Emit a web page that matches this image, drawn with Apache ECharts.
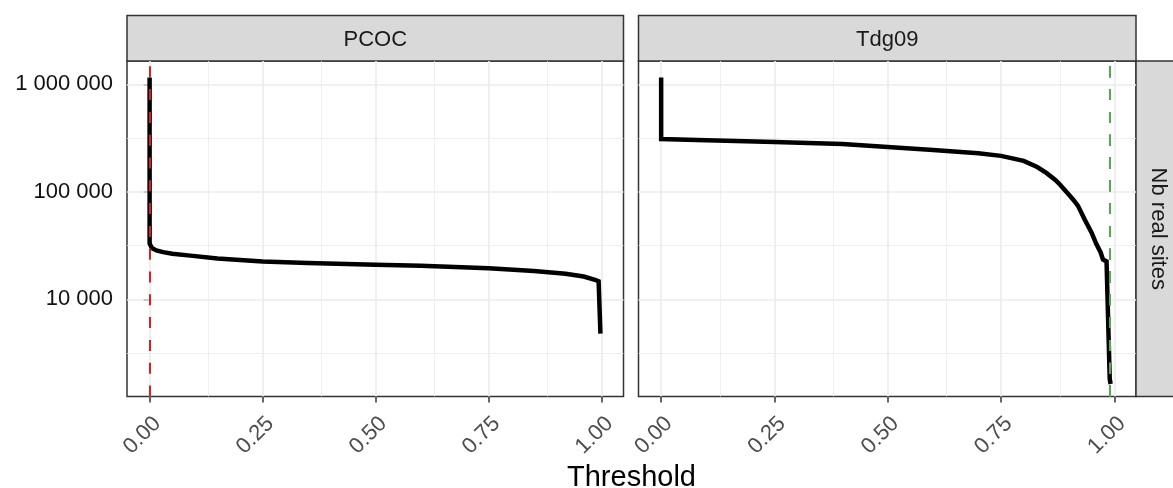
<!DOCTYPE html>
<html>
<head>
<meta charset="utf-8">
<script src="https://cdn.jsdelivr.net/npm/echarts@6/dist/echarts.min.js"></script>
<style>html,body{margin:0;padding:0;background:#fff}#c{width:1173px;height:488px}</style>
</head>
<body>
<div id="c"></div>
<script>
// ---- data ----
const panels = ['PCOC', 'Tdg09'];
const pcocX = [0, 0, 0.005, 0.015, 0.03, 0.05, 0.09, 0.15, 0.25, 0.35, 0.5, 0.6, 0.75, 0.85, 0.92, 0.96, 0.985, 0.993, 0.997, 0.997];
const pcocY = [1160000, 33000, 30000, 28500, 27500, 26500, 25500, 24000, 22500, 21800, 21000, 20500, 19500, 18300, 17300, 16300, 15200, 14700, 14300, 4800];
const tdgX = [0, 0, 0.1, 0.25, 0.4, 0.5, 0.6, 0.7, 0.75, 0.8, 0.83, 0.85, 0.87, 0.88, 0.9, 0.91, 0.92, 0.935, 0.95, 0.96, 0.97, 0.975, 0.983, 0.985, 0.99, 0.992];
const tdgY = [1160000, 310000, 302000, 290000, 278000, 261000, 245000, 229000, 216000, 194000, 170000, 150000, 129000, 117000, 94000, 84000, 74000, 55000, 41700, 33000, 27300, 23500, 22500, 22500, 1820, 1630];
const thresholdsPCOC = [0];
const thresholdsTdg = [0.9855, 0.988, 0.991, 0.9935];
const thresholdColors = ['#E41A1C', '#377EB8', '#4DAF4A', '#984EA3'];
const thresholdDrawOrder = [3, 0, 1, 2];
const xTicks = [0, 0.25, 0.5, 0.75, 1];
const xMinor = [0.125, 0.375, 0.625, 0.875];
const yTicks = [10000, 100000, 1000000];
const yMinor = [Math.pow(10, 3.5), Math.pow(10, 4.5), Math.pow(10, 5.5)];

// ---- chart ----
const FONT = '"Liberation Sans", Arial, sans-serif';
const L = Math.log10;
const XMIN = -0.05, XMAX = 1.048, YMIN = 3.096, YMAX = 6.217;
const fmt = v => String(Math.round(Math.pow(10, v))).replace(/\B(?=(\d{3})+(?!\d))/g, ' ');
const chart = echarts.init(document.getElementById('c'), null, {renderer: 'canvas'});

const grids = [
  {left: 127, top: 61, width: 496.5, height: 335.5},
  {left: 638.5, top: 61, width: 497.5, height: 335.5}
].map(g => Object.assign(g, {show: true, backgroundColor: '#fff', borderColor: '#333', borderWidth: 1.5, containLabel: false, outerBoundsMode: 'none'}));

const xAxes = [0, 1].map(i => ({
  type: 'value', gridIndex: i, min: XMIN, max: XMAX,
  axisLine: {show: false}, splitLine: {show: false},
  axisTick: {show: true, customValues: xTicks, length: 6, lineStyle: {color: '#333', width: 1.5}},
  axisLabel: {customValues: xTicks, rotate: 45, margin: 16, align: 'right', verticalAlign: 'top',
    formatter: v => v.toFixed(2), color: '#4D4D4D', fontSize: 22, fontFamily: FONT}
}));
const yAxes = [0, 1].map(i => ({
  type: 'value', gridIndex: i, min: YMIN, max: YMAX,
  axisLine: {show: false}, splitLine: {show: false},
  axisTick: {show: i === 0, customValues: yTicks.map(L), length: 6, lineStyle: {color: '#333', width: 1.5}},
  axisLabel: {show: i === 0, customValues: yTicks.map(L), margin: 14, formatter: fmt,
    color: '#111', fontSize: 22, fontFamily: FONT}
}));

const gridLines = [];
xTicks.forEach(v => gridLines.push({xAxis: v, lineStyle: {width: 1.6}}));
xMinor.forEach(v => gridLines.push({xAxis: v, lineStyle: {width: 0.8}}));
yTicks.forEach(v => gridLines.push({yAxis: L(v), lineStyle: {width: 1.6}}));
yMinor.forEach(v => gridLines.push({yAxis: L(v), lineStyle: {width: 0.8}}));

const series = [];
const xs = [pcocX, tdgX], ys = [pcocY, tdgY], thr = [thresholdsPCOC, thresholdsTdg];
[0, 1].forEach(i => {
  series.push({
    type: 'line', xAxisIndex: i, yAxisIndex: i, data: [], silent: true,
    markLine: {z: 1, silent: true, symbol: 'none', label: {show: false}, animation: false,
      lineStyle: {color: '#EBEBEB', type: 'solid'}, data: gridLines}
  });
  series.push({
    type: 'line', xAxisIndex: i, yAxisIndex: i, z: 3, showSymbol: false, silent: true,
    lineStyle: {color: '#000', width: 4.5, cap: 'butt', join: 'miter'},
    data: xs[i].map((x, k) => [x, L(ys[i][k])])
  });
  const order = thresholdDrawOrder.filter(k => k < thr[i].length);
  series.push({
    type: 'line', xAxisIndex: i, yAxisIndex: i, data: [], silent: true,
    markLine: {z: 10, silent: true, symbol: 'none', label: {show: false}, animation: false,
      data: order.map(k => ({xAxis: thr[i][k], lineStyle: {color: thresholdColors[k], width: 2, opacity: 1, type: [11, 11.8]}}))}
  });
});

const strips = [
  {type: 'rect', shape: {x: 127, y: 15.5, width: 496.5, height: 45.5}, style: {fill: '#D9D9D9', stroke: '#333', lineWidth: 1.5}},
  {type: 'rect', shape: {x: 638.5, y: 15.5, width: 497.5, height: 45.5}, style: {fill: '#D9D9D9', stroke: '#333', lineWidth: 1.5}},
  {type: 'rect', shape: {x: 1136, y: 61, width: 45.5, height: 335.5}, style: {fill: '#D9D9D9', stroke: '#333', lineWidth: 1.5}},
  {type: 'text', x: 375.25, y: 40, style: {text: panels[0], fill: '#1A1A1A', font: '22px ' + FONT, align: 'center', verticalAlign: 'middle'}},
  {type: 'text', x: 887.25, y: 40, style: {text: panels[1], fill: '#1A1A1A', font: '22px ' + FONT, align: 'center', verticalAlign: 'middle'}},
  {type: 'text', x: 1158.5, y: 228.75, rotation: -Math.PI / 2, style: {text: 'Nb real sites', fill: '#1A1A1A', font: '22px ' + FONT, align: 'center', verticalAlign: 'middle'}},
  {type: 'text', x: 631.5, y: 478, style: {text: 'Threshold', fill: '#000', font: '29px ' + FONT, align: 'center', verticalAlign: 'middle'}}
];

chart.setOption({
  animation: false,
  backgroundColor: '#fff',
  grid: grids, xAxis: xAxes, yAxis: yAxes, series: series,
  graphic: strips
});
</script>
</body>
</html>
